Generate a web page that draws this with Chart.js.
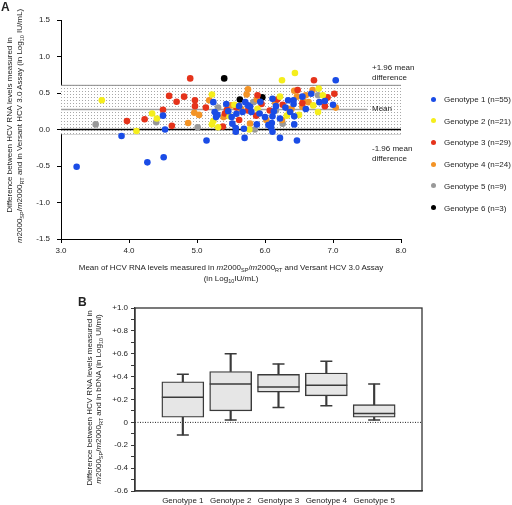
<!DOCTYPE html>
<html>
<head>
<meta charset="utf-8">
<script src="https://cdn.jsdelivr.net/npm/chart.js@4.4.0/dist/chart.umd.min.js"></script>
<style>
  html, body { margin: 0; padding: 0; background: #fff; }
  body { width: 512px; height: 505px; position: relative; overflow: hidden;
         font-family: "Liberation Sans", Arial, sans-serif; color: #222; }
  canvas { position: absolute; left: 0; }
  .t { position: absolute; font-size: 8px; line-height: 9px; white-space: nowrap; }
  .c { transform: translate(-50%, -50%); }
  .v { transform: translate(-50%, -50%) rotate(-90deg); }
  .l { transform: translate(0, -50%); }
  sub { font-size: 5.5px; vertical-align: -2px; line-height: 0; }
  .panel { position: absolute; font-weight: bold; font-size: 12px; }
  .dot { position: absolute; width: 5px; height: 5px; border-radius: 50%; }
</style>
</head>
<body>
<canvas id="chartA" width="512" height="300" style="top:0"></canvas>
<canvas id="chartB" width="512" height="215" style="top:290px"></canvas>

<div class="panel" style="left:1px;top:0">A</div>
<div class="panel" style="left:78px;top:295px">B</div>

<!-- panel A axis titles -->
<div class="t v" style="left:8.5px;top:125px">Difference between HCV RNA levels measured in</div>
<div class="t v" style="left:18.5px;top:126px"><i>m</i>2000<sub>SP</sub>/<i>m</i>2000<sub>RT</sub> and in Versant HCV 3.0 Assay (in Log<sub>10</sub> IU/mL)</div>
<div class="t c" style="left:231px;top:267px">Mean of HCV RNA levels measured in <i>m</i>2000<sub>SP</sub>/<i>m</i>2000<sub>RT</sub> and Versant HCV 3.0 Assay</div>
<div class="t c" style="left:231px;top:278px">(in Log<sub>10</sub>IU/mL)</div>

<!-- limits of agreement labels -->
<div class="t l" style="left:372px;top:67px">+1.96 mean</div>
<div class="t l" style="left:372px;top:77px">difference</div>
<div class="t l" style="left:372px;top:108px">Mean</div>
<div class="t l" style="left:372px;top:148px">-1.96 mean</div>
<div class="t l" style="left:372px;top:158px">difference</div>

<div id="legend"></div>

<!-- panel B axis title -->
<div class="t v" style="left:89px;top:398px">Difference between HCV RNA levels measured in</div>
<div class="t v" style="left:98px;top:399px"><i>m</i>2000<sub>SP</sub>/<i>m</i>2000<sub>RT</sub> and in bDNA (in Log<sub>10</sub> UI/ml)</div>

<script>
// ── Data ──────────────────────────────────────────────────────────────────────

const genotypeNames  = ["Genotype 1", "Genotype 2", "Genotype 3", "Genotype 4", "Genotype 5", "Genotype 6"];
const genotypeCounts = [55, 21, 29, 24, 9, 3];
const genotypeColors = ["#1a4ce6", "#f5ee1c", "#e5331b", "#f39325", "#999999", "#000000"];

// [mean of the two assays, difference]
const genotype1 = [
  [3.23,-0.51],[3.89,-0.09],[4.27,-0.45],[4.50,0.19],[4.51,-0.38],[4.53,0.00],[5.14,-0.15],
  [5.24,0.375],[5.26,0.24],[5.43,0.35],[5.28,0.17],[5.51,0.17],[5.58,0.215],[5.57,0.02],
  [5.57,-0.03],[5.70,-0.115],[5.69,0.01],[5.71,0.375],[5.75,0.33],[5.80,0.24],[5.88,0.07],
  [6.11,0.18],[6.10,0.09],[6.09,0.03],[6.11,-0.03],[6.22,-0.115],[6.11,0.42],[6.16,0.32],
  [6.34,0.40],[6.42,0.40],[6.42,0.35],[6.22,0.15],[6.43,0.18],[6.43,0.07],[6.47,-0.15],
  [6.68,0.49],[6.80,0.375],[6.88,0.39],[7.00,0.34],[7.04,0.675],[5.30,0.20],[5.46,0.25],
  [5.52,0.08],[5.62,0.32],[5.67,0.24],[5.78,0.31],[5.92,0.22],[6.00,0.17],[6.05,0.06],
  [6.13,0.25],[6.30,0.30],[6.37,0.24],[6.55,0.45],[6.60,0.28],[5.93,0.38],
];
const genotype2 = [
  [3.60,0.40],[4.11,-0.02],[4.34,0.22],[4.41,0.15],[6.44,0.775],[6.25,0.675],[5.22,0.48],
  [5.24,0.115],[5.22,0.07],[5.31,0.03],[5.48,0.18],[5.89,0.285],[5.77,0.00],[6.22,0.45],
  [6.32,0.19],[6.71,0.33],[6.78,0.24],[6.79,0.56],[6.85,0.47],[5.55,0.34],[6.50,0.20],
];
const genotype3 = [
  [3.97,0.115],[4.23,0.14],[4.50,0.27],[4.59,0.46],[4.63,0.05],[4.70,0.38],[4.81,0.45],
  [4.90,0.70],[4.97,0.40],[4.97,0.32],[5.13,0.30],[5.44,0.27],[5.41,0.22],[5.38,0.04],
  [5.58,0.30],[5.62,0.13],[5.89,0.47],[5.75,0.26],[5.87,0.19],[5.95,0.35],[6.07,0.26],
  [6.18,0.41],[6.26,0.34],[6.48,0.54],[6.55,0.36],[6.72,0.675],[6.88,0.32],[6.92,0.44],
  [7.02,0.49],
];
const genotype4 = [
  [4.87,0.09],[4.96,0.23],[5.03,0.20],[5.18,0.40],[5.39,0.17],[5.75,0.55],[5.73,0.48],
  [5.88,0.41],[5.78,0.08],[6.02,0.13],[6.34,0.285],[6.39,0.285],[6.43,0.53],[6.47,0.45],
  [6.25,0.13],[6.56,0.39],[6.55,0.31],[6.64,0.375],[6.70,0.54],[7.04,0.30],[5.50,0.33],
  [5.65,0.28],[6.15,0.37],[6.60,0.47],
];
const genotype5 = [
  [3.51,0.07],[4.40,0.10],[5.01,0.03],[5.31,0.30],[5.83,0.375],[5.85,0.00],[6.16,0.26],
  [6.26,0.08],[6.78,0.47],
];
const genotype6 = [[5.40,0.70],[5.63,0.41],[5.96,0.44]];

const scatterSeries = [genotype1, genotype2, genotype3, genotype4, genotype5, genotype6];

// Bland-Altman reference lines: +1.96 SD, mean, -1.96 SD
const upperLimit = 0.605;
const meanDiff   = 0.275;
const lowerLimit = -0.06;

const xRangeA = [3, 8];
const yRangeA = [-1.5, 1.5];

// Box plot, panel B
const boxLabels = ["Genotype 1", "Genotype 2", "Genotype 3", "Genotype 4", "Genotype 5"];
const boxMin    = [-0.11, 0.02, 0.13, 0.145, 0.02];
const boxQ1     = [0.045, 0.10, 0.265, 0.232, 0.045];
const boxMedian = [0.22, 0.335, 0.31, 0.325, 0.078];
const boxQ3     = [0.355, 0.445, 0.42, 0.432, 0.155];
const boxMax    = [0.42, 0.60, 0.51, 0.534, 0.335];
const yRangeB   = [-0.6, 1.0];

// ── Helpers ───────────────────────────────────────────────────────────────────

const FONT = { size: 8, family: "'Liberation Sans', Arial, sans-serif" };

function stipple() {
  const c = document.createElement("canvas");
  c.width = 3; c.height = 3;
  const g = c.getContext("2d");
  g.fillStyle = "#ffffff";
  g.fillRect(0, 0, 3, 3);
  g.fillStyle = "#a8a8a8";
  g.fillRect(1, 1, 1, 1);
  return g.createPattern(c, "repeat");
}

function hline(y, x0, x1, color, width, extra = {}) {
  return {
    type: "line",
    data: [{ x: x0, y }, { x: x1, y }],
    borderColor: color,
    borderWidth: width,
    pointRadius: 0,
    showLine: true,
    order: 5,
    ...extra,
  };
}

// pad a per-category array with empty slots on both ends (axis margins)
const pad = (arr) => [null, ...arr, null];

// ── Panel A: Bland-Altman scatter ─────────────────────────────────────────────

const pointSets = scatterSeries.map((pts, i) => ({
  label: genotypeNames[i],
  data: pts.map(([x, y]) => ({ x, y })),
  backgroundColor: genotypeColors[i],
  borderWidth: 0,
  pointRadius: 3.3,
  order: 1,
}));

new Chart(document.getElementById("chartA"), {
  type: "scatter",
  data: {
    datasets: [
      ...pointSets,
      hline(upperLimit, xRangeA[0], xRangeA[1], "#8a8a8a", 1, { fill: "+1", backgroundColor: stipple(), order: 9 }),
      hline(lowerLimit, xRangeA[0], xRangeA[1], "#8a8a8a", 1, { order: 9 }),
      hline(meanDiff, xRangeA[0], 7.5, "#a0a0a0", 1.5),
      hline(0, xRangeA[0], xRangeA[1], "#000000", 1.3),
    ],
  },
  options: {
    responsive: false,
    animation: false,
    layout: { autoPadding: false, padding: { left: 31, right: 111, top: 20, bottom: 41 } },
    plugins: { legend: { display: false }, tooltip: { enabled: false } },
    scales: {
      x: {
        type: "linear",
        min: xRangeA[0],
        max: xRangeA[1],
        afterFit: (s) => { s.height = 20; },
        border: { color: "#000", width: 1 },
        grid: { drawOnChartArea: false, tickLength: 4, color: "#000" },
        ticks: { stepSize: 1, padding: 3, color: "#222", font: FONT, autoSkip: false, maxRotation: 0,
                 callback: (v) => v.toFixed(1) },
      },
      y: {
        min: yRangeA[0],
        max: yRangeA[1],
        afterFit: (s) => { s.width = 30; },
        border: { color: "#000", width: 1 },
        grid: { drawOnChartArea: false, tickLength: 4, color: "#000" },
        ticks: { stepSize: 0.5, padding: 7, color: "#222", font: FONT, autoSkip: false,
                 callback: (v) => v.toFixed(1) },
      },
    },
  },
});

// HTML legend to the right of panel A
const legend = document.getElementById("legend");
genotypeNames.forEach((name, i) => {
  const cy = 99 + i * 21.7;
  const dot = document.createElement("div");
  dot.className = "dot";
  dot.style.left = "430.5px";
  dot.style.top = (cy - 2.5) + "px";
  dot.style.background = genotypeColors[i];
  legend.appendChild(dot);
  const txt = document.createElement("div");
  txt.className = "t l";
  txt.style.left = "444px";
  txt.style.top = cy + "px";
  txt.textContent = `${name} (n=${genotypeCounts[i]})`;
  legend.appendChild(txt);
});

// ── Panel B: box plot ─────────────────────────────────────────────────────────

const frame = {
  id: "frame",
  afterDraw(chart) {
    const { ctx, chartArea: a } = chart;
    ctx.save();
    ctx.strokeStyle = "#333";
    ctx.lineWidth = 1.3;
    ctx.strokeRect(a.left, a.top, a.right - a.left, a.bottom - a.top);
    ctx.restore();
  },
};

const STROKE = "#3a3a3a";

function capSet(values, radius) {
  return {
    type: "line",
    data: pad(values),
    showLine: false,
    pointStyle: "line",
    pointRadius: radius,
    pointBorderWidth: 1.5,
    pointBorderColor: STROKE,
    order: 1,
  };
}

new Chart(document.getElementById("chartB"), {
  type: "bar",
  data: {
    labels: ["", ...boxLabels, ""],
    datasets: [
      capSet(boxMedian, 21),
      capSet(boxMax, 6),
      capSet(boxMin, 6),
      {
        data: pad(boxQ1.map((q, i) => [q, boxQ3[i]])),
        backgroundColor: "#e6e6e6",
        borderColor: STROKE,
        borderWidth: 1.4,
        borderSkipped: false,
        barThickness: 42,
        grouped: false,
        order: 2,
      },
      {
        data: pad(boxQ3.map((q, i) => [q, boxMax[i]])),
        backgroundColor: STROKE,
        barThickness: 1.5,
        grouped: false,
        order: 3,
      },
      {
        data: pad(boxMin.map((m, i) => [m, boxQ1[i]])),
        backgroundColor: STROKE,
        barThickness: 1.5,
        grouped: false,
        order: 3,
      },
      {
        type: "line",
        data: pad(boxLabels).map(() => 0),
        borderColor: "#222",
        borderWidth: 1,
        borderDash: [1, 1.5],
        pointRadius: 0,
        order: 4,
      },
    ],
  },
  options: {
    responsive: false,
    animation: false,
    // point-style "line" marks are wide; keep them from inflating the plot margins
    layout: { autoPadding: false, padding: { left: 105, right: 90, top: 18, bottom: 0 } },
    plugins: { legend: { display: false }, tooltip: { enabled: false } },
    scales: {
      x: {
        offset: false,
        afterFit: (s) => { s.height = 14; },
        border: { color: STROKE, width: 1.3 },
        grid: { display: false, drawTicks: false },
        ticks: { padding: 5, color: "#222", font: FONT, autoSkip: false, maxRotation: 0 },
      },
      y: {
        min: yRangeB[0],
        max: yRangeB[1],
        afterFit: (s) => { s.width = 30; },
        border: { color: STROKE, width: 1.3 },
        grid: { drawOnChartArea: false, tickLength: 4, color: STROKE },
        ticks: {
          stepSize: 0.1,
          padding: 3,
          color: "#222",
          font: FONT,
          autoSkip: false,
          callback: (v) => {
            const k = Math.round(v * 10);
            if (k % 2 !== 0) return "";
            if (k === 0) return "0";
            return (k > 0 ? "+" : "") + (k / 10).toFixed(1);
          },
        },
      },
    },
  },
  plugins: [frame],
});
</script>
</body>
</html>
